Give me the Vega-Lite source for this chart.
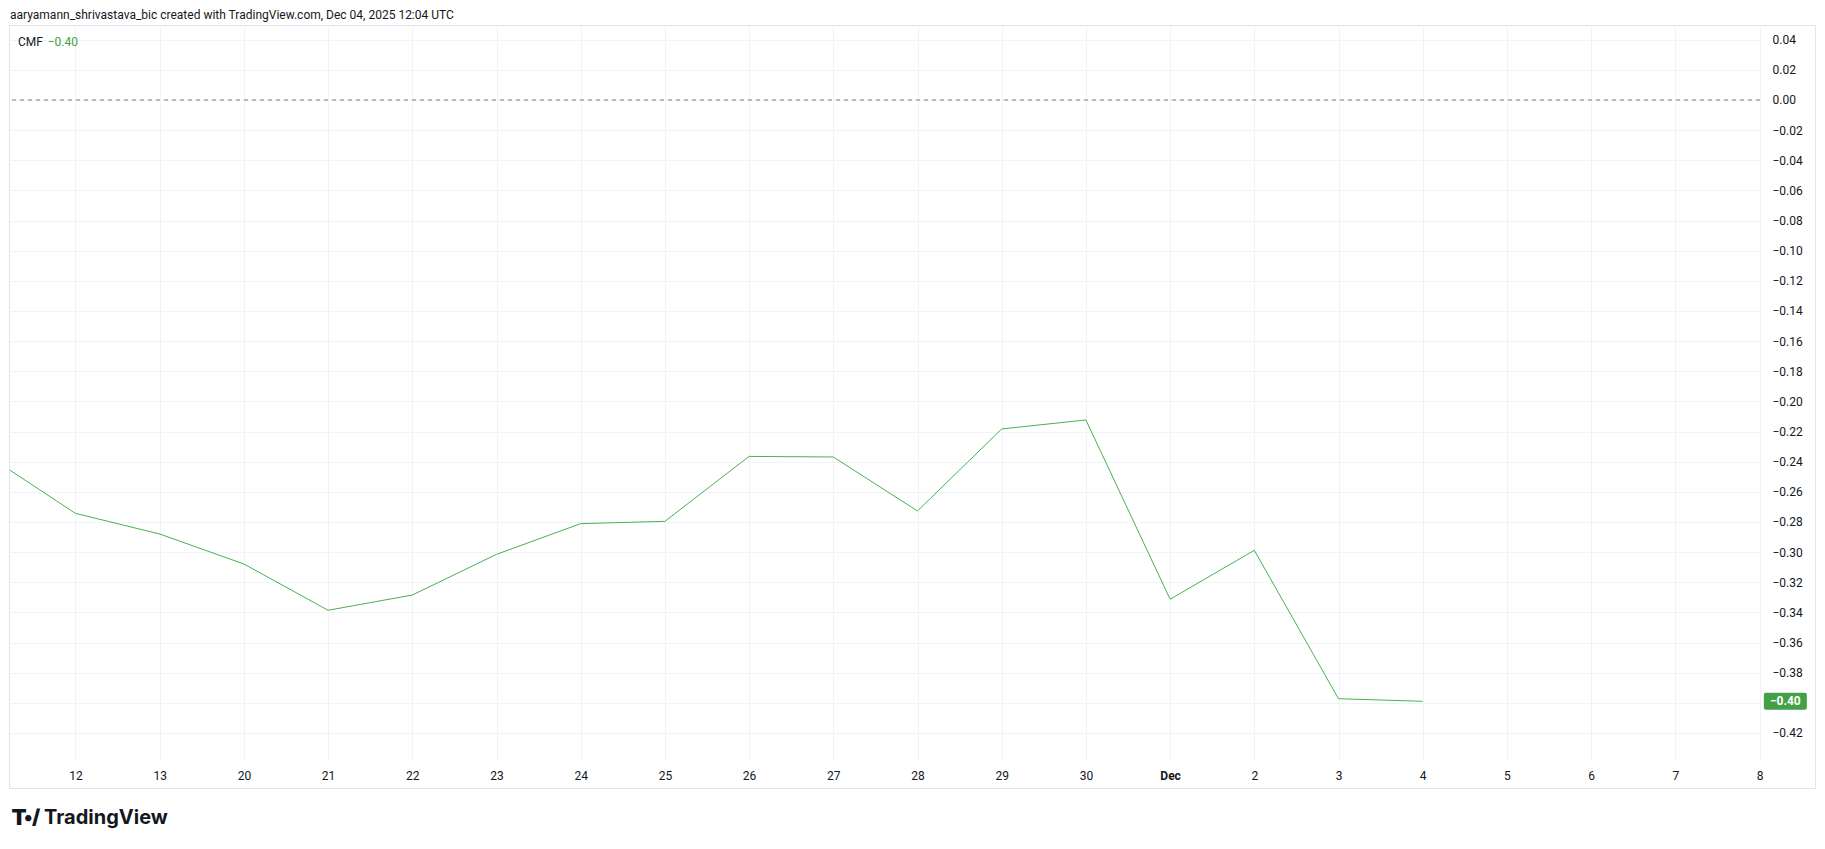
{
  "$schema": "https://vega.github.io/schema/vega-lite/v6.json",
  "width": 1750,
  "height": 734,
  "autosize": {"type": "none"},
  "padding": {"left": 10, "top": 26, "right": 65, "bottom": 89},
  "background": "#ffffff",
  "config": {
    "view": {"stroke": null},
    "axis": {"labelFont": "Roboto", "labelFontSize": 12, "labelColor": "#131722", "gridColor": "#f0f3fa", "gridWidth": 1, "ticks": false, "domain": false, "title": null, "labelOverlap": false},
    "axisY": {"labelOverlap": false, "tickCount": 40},
    "axisX": {"labelOverlap": false, "tickCount": 40}
  },
  "data": {
    "values": [
      {"idx": -1, "day": "11", "cmf": -0.2375},
      {"idx": 0, "day": "12", "cmf": -0.2743},
      {"idx": 1, "day": "13", "cmf": -0.2880},
      {"idx": 2, "day": "20", "cmf": -0.3079},
      {"idx": 3, "day": "21", "cmf": -0.3386},
      {"idx": 4, "day": "22", "cmf": -0.3285},
      {"idx": 5, "day": "23", "cmf": -0.3015},
      {"idx": 6, "day": "24", "cmf": -0.2811},
      {"idx": 7, "day": "25", "cmf": -0.2796},
      {"idx": 8, "day": "26", "cmf": -0.2365},
      {"idx": 9, "day": "27", "cmf": -0.2369},
      {"idx": 10, "day": "28", "cmf": -0.2727},
      {"idx": 11, "day": "29", "cmf": -0.2183},
      {"idx": 12, "day": "30", "cmf": -0.2123},
      {"idx": 13, "day": "Dec", "cmf": -0.3313},
      {"idx": 14, "day": "2", "cmf": -0.2988},
      {"idx": 15, "day": "3", "cmf": -0.3973},
      {"idx": 16, "day": "4", "cmf": -0.3990}
    ]
  },
  "layer": [
    {
      "mark": {"type": "line", "color": "#4caf50", "strokeWidth": 1, "clip": true},
      "encoding": {
        "x": {
          "field": "idx", "type": "quantitative",
          "scale": {"domain": [-0.7779, 20.0059], "nice": false, "zero": false},
          "axis": {
            "orient": "bottom",
            "values": [0, 1, 2, 3, 4, 5, 6, 7, 8, 9, 10, 11, 12, 13, 14, 15, 16, 17, 18, 19, 20],
            "tickCount": 40,
            "labelExpr": "['12','13','20','21','22','23','24','25','26','27','28','29','30','Dec','2','3','4','5','6','7','8'][datum.value]",
            "labelBaseline": "middle",
            "labelPadding": 15,
            "labelFlush": false,
            "labelOverlap": false,
            "labelFontWeight": {"condition": {"test": "datum.value == 13", "value": "bold"}, "value": "normal"},
            "grid": true
          }
        },
        "y": {
          "field": "cmf", "type": "quantitative",
          "scale": {"domain": [-0.43796, 0.049104], "nice": false, "zero": false},
          "axis": {
            "orient": "right",
            "values": [-0.42, -0.4, -0.38, -0.36, -0.34, -0.32, -0.3, -0.28, -0.26, -0.24, -0.22, -0.2, -0.18, -0.16, -0.14, -0.12, -0.1, -0.08, -0.06, -0.04, -0.02, 0, 0.02, 0.04],
            "tickCount": 40,
            "format": ".2f",
            "labelAlign": "left",
            "labelBaseline": "middle",
            "labelPadding": 12,
            "labelOverlap": false,
            "labelBound": false,
            "grid": true
          }
        }
      }
    },
    {
      "data": {"values": [{}]},
      "mark": {"type": "rect", "fill": null, "stroke": "#e0e3eb", "strokeWidth": 1, "clip": false},
      "encoding": {
        "x": {"datum": -0.7838, "type": "quantitative"},
        "x2": {"datum": 20.666},
        "y": {"datum": 0.04944, "type": "quantitative"},
        "y2": {"datum": -0.45687}
      }
    },
    {
      "data": {"values": [{}]},
      "mark": {"type": "rule", "color": "#787b86", "strokeWidth": 1, "strokeDash": [4, 4]},
      "encoding": {
        "y": {"datum": 0, "type": "quantitative"}
      }
    },
    {
      "transform": [{"filter": "datum.idx == 16"}],
      "mark": {"type": "tick", "orient": "horizontal", "color": "#43a047", "opacity": 1, "size": 43, "thickness": 17, "cornerRadius": 2, "clip": false},
      "encoding": {
        "x": {"datum": 20.307, "type": "quantitative"},
        "y": {"field": "cmf", "type": "quantitative"}
      }
    },
    {
      "transform": [{"filter": "datum.idx == 16"}],
      "mark": {"type": "text", "color": "#ffffff", "font": "Roboto", "fontSize": 12, "fontWeight": "bold", "align": "center", "baseline": "middle", "clip": false},
      "encoding": {
        "x": {"datum": 20.307, "type": "quantitative"},
        "y": {"field": "cmf", "type": "quantitative"},
        "text": {"field": "cmf", "type": "quantitative", "format": ".2f"}
      }
    },
    {
      "data": {"values": [{}]},
      "mark": {"type": "text", "text": "aaryamann_shrivastava_bic created with TradingView.com, Dec 04, 2025 12:04 UTC", "color": "#131722", "font": "Roboto", "fontSize": 12, "align": "left", "baseline": "middle", "clip": false},
      "encoding": {
        "x": {"datum": -0.7779, "type": "quantitative"},
        "y": {"datum": 0.0564, "type": "quantitative"}
      }
    },
    {
      "data": {"values": [{}]},
      "mark": {"type": "text", "text": "CMF", "color": "#131722", "font": "Roboto", "fontSize": 12, "align": "left", "baseline": "middle"},
      "encoding": {
        "x": {"datum": -0.683, "type": "quantitative"},
        "y": {"datum": 0.0387, "type": "quantitative"}
      }
    },
    {
      "transform": [{"filter": "datum.idx == 16"}],
      "mark": {"type": "text", "color": "#43a047", "font": "Roboto", "fontSize": 12, "align": "left", "baseline": "middle"},
      "encoding": {
        "x": {"datum": -0.33, "type": "quantitative"},
        "y": {"datum": 0.0387, "type": "quantitative"},
        "text": {"field": "cmf", "type": "quantitative", "format": ".2f"}
      }
    },
    {
      "data": {"values": [{}]},
      "mark": {"type": "text", "text": "T", "color": "#131722", "font": "Inter", "fontSize": 22, "fontWeight": 900, "align": "left", "baseline": "middle", "clip": false},
      "encoding": {
        "x": {"datum": -0.76, "type": "quantitative"},
        "y": {"datum": -0.4764, "type": "quantitative"}
      }
    },
    {
      "data": {"values": [{}]},
      "mark": {"type": "text", "text": "•/", "color": "#131722", "font": "Inter", "fontSize": 20, "fontWeight": 900, "align": "left", "baseline": "middle", "clip": false},
      "encoding": {
        "x": {"datum": -0.61, "type": "quantitative"},
        "y": {"datum": -0.4764, "type": "quantitative"}
      }
    },
    {
      "data": {"values": [{}]},
      "mark": {"type": "text", "text": "TradingView", "color": "#131722", "font": "Inter", "fontSize": 20, "fontWeight": 700, "align": "left", "baseline": "middle", "clip": false},
      "encoding": {
        "x": {"datum": -0.374, "type": "quantitative"},
        "y": {"datum": -0.4764, "type": "quantitative"}
      }
    }
  ]
}
